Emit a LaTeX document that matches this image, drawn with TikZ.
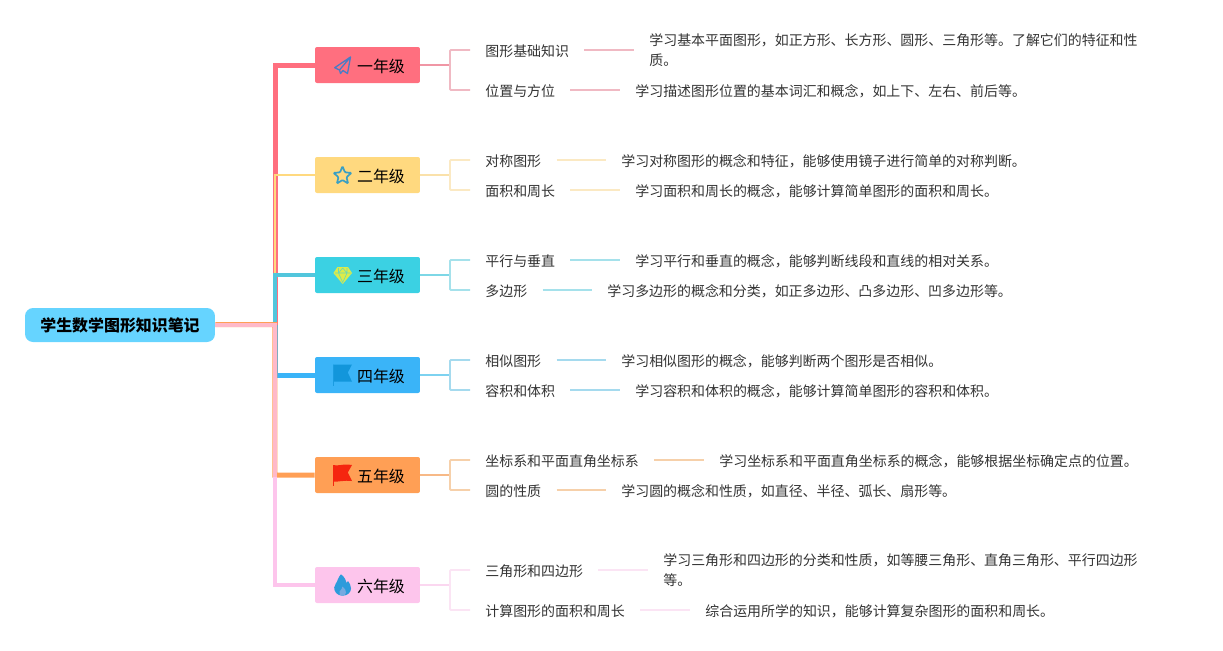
\documentclass[tikz,border=0pt]{standalone}
\usepackage{fontspec}
\setmainfont{Noto Sans CJK SC}
\definecolor{rootblue}{HTML}{66D4FF}
\definecolor{redg}{HTML}{FF6F7F}
\definecolor{yellowg}{HTML}{FFD97F}
\definecolor{tealg}{HTML}{3BD1E3}
\definecolor{blueg}{HTML}{3AB4F8}
\definecolor{orangeg}{HTML}{FF9F55}
\definecolor{pinkg}{HTML}{FDC5EC}
\definecolor{salmong}{HTML}{FFB9C9}
\definecolor{trunkteal}{HTML}{52C6DC}
\definecolor{inktext}{HTML}{333333}
\definecolor{iconblue}{HTML}{4A7CC4}
\definecolor{iconstar}{HTML}{3A9FC4}
\definecolor{iconyellow}{HTML}{DCEB4A}
\definecolor{iconflag}{HTML}{1296DB}
\definecolor{iconred}{HTML}{F5260F}
\definecolor{iconfire}{HTML}{2D9BDB}
\tikzset{
  rootbox/.style={fill=rootblue,rounded corners=0.16cm,minimum width=3.8cm,minimum height=0.68cm,font=\fontsize{9.07pt}{11pt}\selectfont\bfseries,inner sep=0pt},
  gradebox/.style={rounded corners=0.04cm,minimum width=2.1cm,minimum height=0.72cm,font=\fontsize{9.07pt}{11pt}\selectfont,inner sep=0pt},
  topic/.style={anchor=west,inner xsep=0.3cm,inner ysep=0pt,text=inktext,font=\fontsize{7.94pt}{11.3pt}\selectfont,execute at begin node={\rule{0pt}{8.1pt}}},
  detail/.style={topic,align=left},
  trunk/.style={line width=0.1cm,miter limit=10},
  bracket/.style={line width=0.036cm,rounded corners=0.02cm},
}
\newcommand{\gradelabel}[1]{\hspace*{0.54cm}\rule{0pt}{9.2pt}#1}
\begin{document}
\begin{tikzpicture}[x=0.02cm,y=-0.02cm]
\useasboundingbox (0,0) rectangle (1223,650);

% Root and grades
\node[rootbox] (root) at (120,325) {学生数学图形知识笔记};
\node[gradebox,fill=redg] (g1) at (367.5,65) {\gradelabel{一年级}};
\node[gradebox,fill=yellowg] (g2) at (367.5,175) {\gradelabel{二年级}};
\node[gradebox,fill=tealg] (g3) at (367.5,275) {\gradelabel{三年级}};
\node[gradebox,fill=blueg] (g4) at (367.5,375) {\gradelabel{四年级}};
\node[gradebox,fill=orangeg] (g5) at (367.5,475) {\gradelabel{五年级}};
\node[gradebox,fill=pinkg] (g6) at (367.5,585) {\gradelabel{六年级}};

% Trunk, one path per grade
\coordinate (c0) at (275.2,325);
\draw[trunk,redg] (c0) -- (275.2,65) -- (g1.west);
\draw[trunk,line width=0.035cm,yellowg] (c0) -- (275.2,175) -- (g2.west);
\draw[trunk,line width=0.088cm,trunkteal] (c0) -- (275.2,275) -- (g3.west);
\draw[trunk,blueg] (c0) -- (275.2,375) -- (g4.west);
\draw[trunk,orangeg] (root.east) ++(0,-0.3) -- (274.9,324.7) -- (274.9,475) -- (g5.west);
\draw[trunk,line width=0.08cm,pinkg] (root.east) ++(0,0.4) -- (275.2,325.4) -- (275.2,585) -- (g6.west);
\draw[trunk,line width=0.08cm,salmong] (root.east) ++(0,0.4) -- (275.2,325.4) -- (275.2,477);

% Icons
\draw[iconblue,line width=0.026cm,line join=round] (350.5,57) -- (334.7,67.7) -- (339.5,70) -- (350.5,57) -- (347.5,73.5) -- (343,70.5) -- (340.5,73.5) -- (339.5,70);
\draw[iconstar,line width=0.034cm,rounded corners=0.02cm] (342.5,166.3) -- (340,172.4) -- (333.5,172.9) -- (338.5,177.1) -- (336.9,183.5) -- (342.5,180) -- (348.1,183.5) -- (346.5,177.1) -- (351.5,172.9) -- (345,172.4) -- cycle;
\fill[iconyellow] (337.5,267) -- (348,267) -- (352,273) -- (342.7,284) -- (333.4,273) -- cycle;
\draw[tealg!70!iconyellow,line width=0.012cm] (335,273) -- (350.5,273) (338.5,268) -- (338.5,273) -- (342.7,282.5) -- (347,273) -- (347,268) (342.7,268) -- (338.5,273) (342.7,268) -- (347,273);
\fill[iconflag] (333.2,364.5) -- (352,364.5) -- (347.8,372.5) -- (352,381.7) -- (333.2,381.7) -- cycle;
\draw[iconflag!80!blueg,line width=0.012cm] (333.5,364.5) -- (333.5,385.5);
\fill[iconred] (333.2,465) .. controls (338,466.5) and (342,463.5) .. (352,465) -- (347.8,472.5) -- (352,481) .. controls (344,480) and (338,482) .. (333.2,481.7) -- cycle;
\draw[iconred,line width=0.016cm] (333.5,465) -- (333.5,485.5);
\fill[iconfire] (342.5,595.7) .. controls (337,595.7) and (334,591.5) .. (334.2,587.5) .. controls (334.5,584) and (337,583) .. (338,579) .. controls (338.5,577) and (340,575.5) .. (341,574.3) .. controls (345,577) and (346,581) .. (346.5,583) .. controls (347.5,582.5) and (348,581.5) .. (348,581) .. controls (350,584) and (351,586) .. (351,588.5) .. controls (351,592.5) and (347.5,595.7) .. (342.5,595.7) -- cycle;
\fill[pinkg!35!iconfire] (342.5,595.7) .. controls (339.5,595.7) and (338.5,593) .. (339.5,591.5) .. controls (341,589.5) and (342.5,588.5) .. (342.5,586.5) .. controls (344.5,588.5) and (346.5,590.5) .. (346,592.5) .. controls (345.5,594.5) and (344.5,595.7) .. (342.5,595.7) -- cycle;

% Grade 1
\node[topic] (t11) at (470,50) {图形基础知识};
\node[detail] (d11) at (634,50) {学习基本平面图形，如正方形、长方形、圆形、三角形等。了解它们的特征和性\\质。};
\node[topic] (t12) at (470,90) {位置与方位};
\node[detail] (d12) at (620,90) {学习描述图形位置的基本词汇和概念，如上下、左右、前后等。};
\draw[bracket,color={rgb,255:red,240;green,150;blue,165}] (g1.east) -- (450,65);
\draw[bracket,color={rgb,255:red,240;green,185;blue,195}] (t11.west) -| (450,65) |- (t12.west);
\draw[bracket,color={rgb,255:red,240;green,185;blue,195}] (t11.east) -- (d11.west);
\draw[bracket,color={rgb,255:red,240;green,185;blue,195}] (t12.east) -- (d12.west);

% Grade 2
\node[topic] (t21) at (470,160) {对称图形};
\node[detail] (d21) at (606,160) {学习对称图形的概念和特征，能够使用镜子进行简单的对称判断。};
\node[topic] (t22) at (470,190) {面积和周长};
\node[detail] (d22) at (620,190) {学习面积和周长的概念，能够计算简单图形的面积和周长。};
\draw[bracket,color={rgb,255:red,250;green,225;blue,170}] (g2.east) -- (450,175);
\draw[bracket,color={rgb,255:red,251;green,233;blue,195}] (t21.west) -| (450,175) |- (t22.west);
\draw[bracket,color={rgb,255:red,251;green,233;blue,195}] (t21.east) -- (d21.west);
\draw[bracket,color={rgb,255:red,251;green,233;blue,195}] (t22.east) -- (d22.west);

% Grade 3
\node[topic] (t31) at (470,260) {平行与垂直};
\node[detail] (d31) at (620,260) {学习平行和垂直的概念，能够判断线段和直线的相对关系。};
\node[topic] (t32) at (470,290) {多边形};
\node[detail] (d32) at (592,290) {学习多边形的概念和分类，如正多边形、凸多边形、凹多边形等。};
\draw[bracket,color={rgb,255:red,125;green,215;blue,230}] (g3.east) -- (450,275);
\draw[bracket,color={rgb,255:red,165;green,225;blue,235}] (t31.west) -| (450,275) |- (t32.west);
\draw[bracket,color={rgb,255:red,165;green,225;blue,235}] (t31.east) -- (d31.west);
\draw[bracket,color={rgb,255:red,165;green,225;blue,235}] (t32.east) -- (d32.west);

% Grade 4
\node[topic] (t41) at (470,360) {相似图形};
\node[detail] (d41) at (606,360) {学习相似图形的概念，能够判断两个图形是否相似。};
\node[topic] (t42) at (470,390) {容积和体积};
\node[detail] (d42) at (620,390) {学习容积和体积的概念，能够计算简单图形的容积和体积。};
\draw[bracket,color={rgb,255:red,125;green,210;blue,240}] (g4.east) -- (450,375);
\draw[bracket,color={rgb,255:red,165;green,218;blue,238}] (t41.west) -| (450,375) |- (t42.west);
\draw[bracket,color={rgb,255:red,165;green,218;blue,238}] (t41.east) -- (d41.west);
\draw[bracket,color={rgb,255:red,165;green,218;blue,238}] (t42.east) -- (d42.west);

% Grade 5
\node[topic] (t51) at (470,460) {坐标系和平面直角坐标系};
\node[detail] (d51) at (704,460) {学习坐标系和平面直角坐标系的概念，能够根据坐标确定点的位置。};
\node[topic] (t52) at (470,490) {圆的性质};
\node[detail] (d52) at (606,490) {学习圆的概念和性质，如直径、半径、弧长、扇形等。};
\draw[bracket,color={rgb,255:red,247;green,185;blue,135}] (g5.east) -- (450,475);
\draw[bracket,color={rgb,255:red,246;green,208;blue,170}] (t51.west) -| (450,475) |- (t52.west);
\draw[bracket,color={rgb,255:red,246;green,208;blue,170}] (t51.east) -- (d51.west);
\draw[bracket,color={rgb,255:red,246;green,208;blue,170}] (t52.east) -- (d52.west);

% Grade 6
\node[topic] (t61) at (470,570) {三角形和四边形};
\node[detail] (d61) at (648,570) {学习三角形和四边形的分类和性质，如等腰三角形、直角三角形、平行四边形\\等。};
\node[topic] (t62) at (470,610) {计算图形的面积和周长};
\node[detail] (d62) at (690,610) {综合运用所学的知识，能够计算复杂图形的面积和周长。};
\draw[bracket,color={rgb,255:red,251;green,215;blue,240}] (g6.east) -- (450,585);
\draw[bracket,color={rgb,255:red,251;green,228;blue,244}] (t61.west) -| (450,585) |- (t62.west);
\draw[bracket,color={rgb,255:red,251;green,228;blue,244}] (t61.east) -- (d61.west);
\draw[bracket,color={rgb,255:red,251;green,228;blue,244}] (t62.east) -- (d62.west);

\end{tikzpicture}
\end{document}
